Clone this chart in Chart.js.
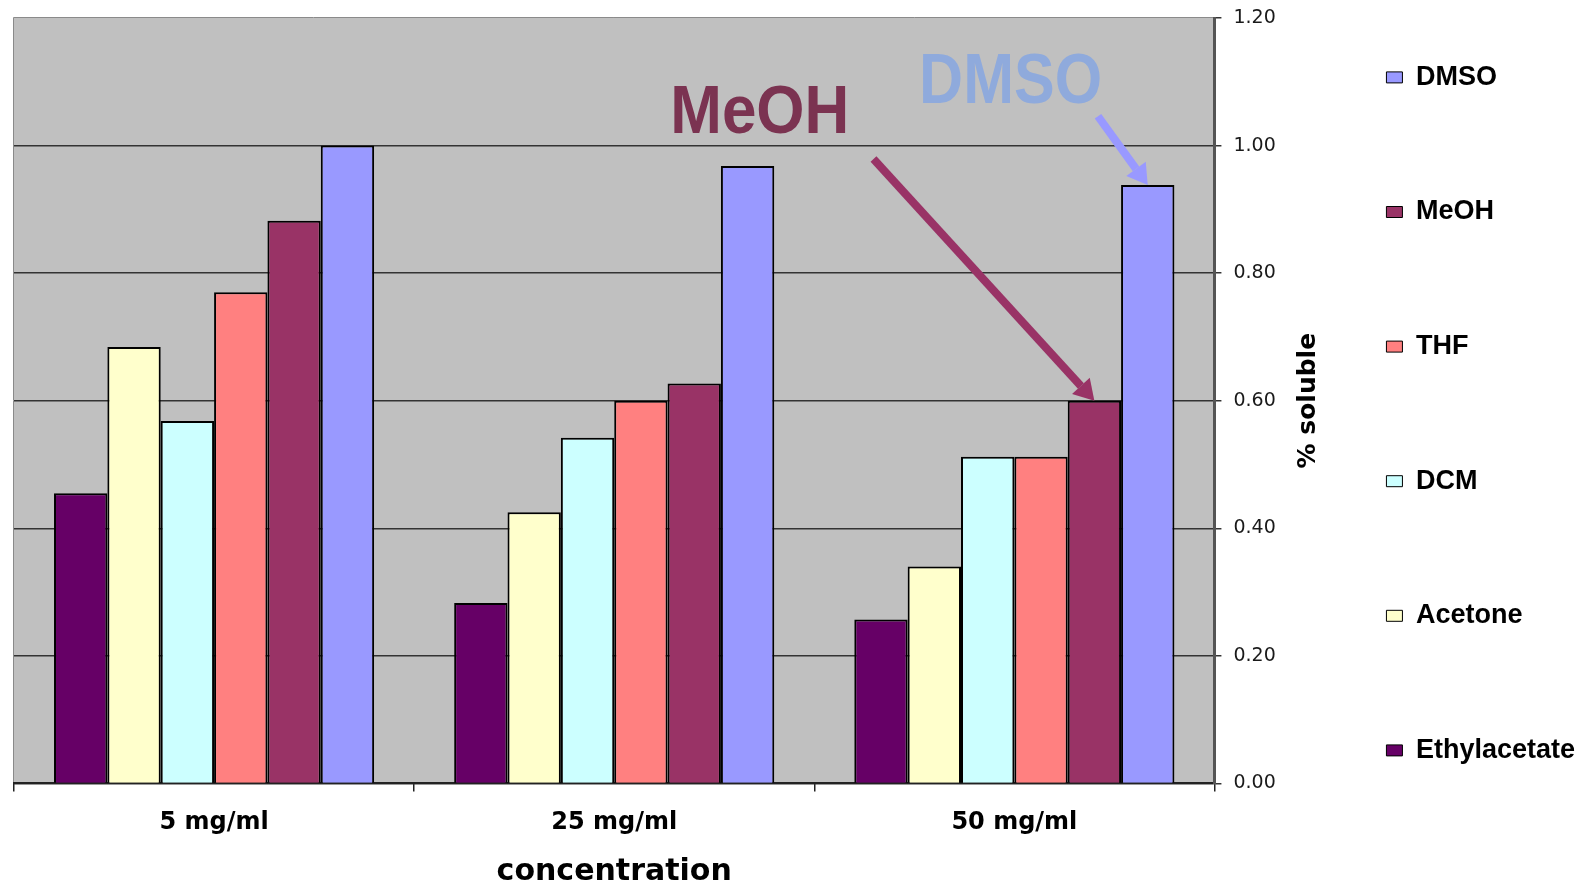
<!DOCTYPE html>
<html>
<head>
<meta charset="utf-8">
<script src="https://cdn.jsdelivr.net/npm/chart.js@4/dist/chart.umd.min.js"></script>
<style>
  html, body { margin: 0; padding: 0; background: #ffffff; }
  canvas { display: block; }
</style>
</head>
<body>
<canvas id="chart" width="1585" height="883"></canvas>
<script>
// ---- data ----
const categories = ['5 mg/ml', '25 mg/ml', '50 mg/ml'];
const seriesNames = ['Ethylacetate', 'Acetone', 'DCM', 'THF', 'MeOH', 'DMSO'];
const ethylacetate = [0.455, 0.283, 0.257];
const acetone      = [0.684, 0.425, 0.340];
const dcm          = [0.568, 0.542, 0.512];
const thf          = [0.770, 0.600, 0.512];
const meoh         = [0.882, 0.627, 0.600];
const dmso         = [1.000, 0.968, 0.938];
const yTickLabels  = ['0.00', '0.20', '0.40', '0.60', '0.80', '1.00', '1.20'];
const xTitle = 'concentration';
const yTitle = '% soluble';

// callouts: text, the bar they point at, label anchor and arrow tail in axis units
const callouts = [
  { text: 'MeOH', series: 'MeOH', category: 2, label: [1.140, 1.020], tail: [1.648, 0.979] },
  { text: 'DMSO', series: 'DMSO', category: 2, label: [1.762, 1.066], tail: [2.209, 1.046] }
];

// ---- styles ----
const seriesColors = ['#660066', '#FFFFCC', '#CCFFFF', '#FF8080', '#993366', '#9999FF'];
const calloutStyles = {
  MeOH: { textColor: '#7B3351', arrowColor: '#993366', size: 62, stretch: 1.12, shaft: 8, headLen: 20, headWidth: 24 },
  DMSO: { textColor: '#8FAADC', arrowColor: '#9999FF', size: 61, stretch: 1.14, shaft: 8, headLen: 20, headWidth: 24 }
};

const seriesData = [ethylacetate, acetone, dcm, thf, meoh, dmso];

function drawArrow(ctx, x0, y0, x1, y1, color, w, hl, hw) {
  const ang = Math.atan2(y1 - y0, x1 - x0);
  const bx = x1 - hl * Math.cos(ang), by = y1 - hl * Math.sin(ang);
  ctx.save();
  ctx.strokeStyle = color; ctx.fillStyle = color; ctx.lineWidth = w; ctx.lineCap = 'butt';
  ctx.beginPath(); ctx.moveTo(x0, y0); ctx.lineTo(bx, by); ctx.stroke();
  ctx.beginPath();
  ctx.moveTo(x1, y1);
  ctx.lineTo(bx + hw / 2 * Math.sin(ang), by - hw / 2 * Math.cos(ang));
  ctx.lineTo(bx - hw / 2 * Math.sin(ang), by + hw / 2 * Math.cos(ang));
  ctx.closePath(); ctx.fill();
  ctx.restore();
}

const plotBackground = {
  id: 'plotBackground',
  beforeDraw(chart) {
    const { ctx, chartArea: a } = chart;
    ctx.save();
    ctx.fillStyle = '#ffffff';
    ctx.fillRect(0, 0, chart.width, chart.height);
    ctx.fillStyle = '#C0C0C0';
    ctx.fillRect(a.left, a.top, a.right - a.left, a.bottom - a.top);
    ctx.strokeStyle = '#8a8a8a'; ctx.lineWidth = 1;
    ctx.beginPath();
    ctx.moveTo(a.left - 0.5, a.bottom);
    ctx.lineTo(a.left - 0.5, a.top - 0.5);
    ctx.lineTo(a.right, a.top - 0.5);
    ctx.stroke();
    ctx.restore();
  }
};

const calloutPlugin = {
  id: 'callouts',
  afterDraw(chart) {
    const { ctx, scales: { x, y }, chartArea } = chart;
    callouts.forEach(c => {
      const st = calloutStyles[c.text];
      const meta = chart.getDatasetMeta(seriesNames.indexOf(c.series));
      const bar = meta.data[c.category];
      drawArrow(ctx, x.getPixelForValue(c.tail[0]), y.getPixelForValue(c.tail[1]),
        bar.x, bar.y, st.arrowColor, st.shaft, st.headLen, st.headWidth);
      ctx.save();
      ctx.translate(x.getPixelForValue(c.label[0]), y.getPixelForValue(c.label[1]));
      ctx.scale(1, st.stretch);
      ctx.font = 'bold ' + st.size + 'px "Liberation Sans", Arial, sans-serif';
      ctx.fillStyle = st.textColor;
      ctx.textAlign = 'left'; ctx.textBaseline = 'alphabetic';
      ctx.fillText(c.text, 0, 0);
      ctx.restore();
    });
    // y axis title, reading bottom to top
    ctx.save();
    ctx.translate(y.left + 94, (chartArea.top + chartArea.bottom) / 2);
    ctx.rotate(-Math.PI / 2);
    ctx.font = 'bold 25px "DejaVu Sans", sans-serif';
    ctx.fillStyle = '#000';
    ctx.textAlign = 'center'; ctx.textBaseline = 'middle';
    ctx.fillText(yTitle, 0, 0);
    ctx.restore();
  }
};

Chart.defaults.color = '#000';

new Chart(document.getElementById('chart'), {
  type: 'bar',
  data: {
    labels: categories,
    datasets: seriesNames.map((name, i) => ({
      label: name,
      data: seriesData[i],
      backgroundColor: seriesColors[i],
      borderColor: '#000',
      borderWidth: 2,
      categoryPercentage: 0.8,
      barPercentage: 1.0
    }))
  },
  options: {
    responsive: false,
    animation: false,
    devicePixelRatio: 1,
    layout: { padding: { top: 18, left: 14, right: 0, bottom: 11.5 } },
    plugins: {
      tooltip: { enabled: false },
      legend: {
        position: 'right',
        align: 'end',
        reverse: true,
        labels: {
          boxWidth: 16,
          boxHeight: 11,
          padding: 4,
          color: '#000',
          font: { family: "'Liberation Sans', Arial, sans-serif", size: 27, weight: 'bold', lineHeight: '130.6px' },
          generateLabels(chart) {
            return Chart.defaults.plugins.legend.labels.generateLabels(chart).map(item =>
              Object.assign(item, { text: [item.text], lineWidth: 1, strokeStyle: '#000' }));
          }
        }
      }
    },
    scales: {
      x: {
        grid: { offset: true, drawOnChartArea: false, tickLength: 8, color: '#222', lineWidth: 1.5 },
        border: { color: '#222', width: 2 },
        ticks: { color: '#000', padding: 17, font: { family: "'DejaVu Sans', sans-serif", size: 24, weight: 'bold' } },
        title: {
          display: true, text: xTitle, color: '#000',
          font: { family: "'DejaVu Sans', sans-serif", size: 30, weight: 'bold', lineHeight: '2px' },
          padding: { top: 16.8, bottom: -1.5 }
        }
      },
      y: {
        position: 'right',
        min: 0,
        max: 1.2,
        ticks: {
          stepSize: 0.2, padding: 12, color: '#1a1a1a',
          font: { family: "'DejaVu Sans', sans-serif", size: 19, lineHeight: '2px' },
          callback: (v, i) => yTickLabels[i]
        },
        grid: {
          color: c => (c.tick && c.tick.value > 1.19) ? 'rgba(0,0,0,0)' : '#333',
          tickColor: '#333',
          lineWidth: 1.5,
          tickLength: 7
        },
        border: { color: '#555', width: 3 },
        afterFit(scale) { scale.width = 168; }
      }
    }
  },
  plugins: [plotBackground, calloutPlugin]
});
</script>
</body>
</html>
